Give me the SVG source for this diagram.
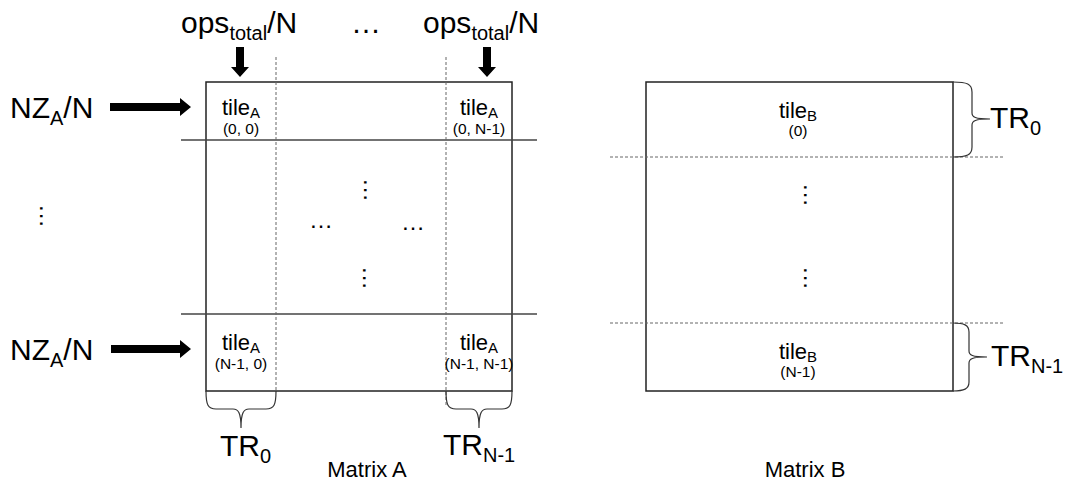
<svg xmlns="http://www.w3.org/2000/svg" width="1068" height="486" viewBox="0 0 1068 486">
<style>
text{font-family:"Liberation Sans",Arial,sans-serif;fill:#000}
.big{font-size:30px}
.sub{font-size:20px}
.tile{font-size:22px;text-anchor:middle}
.tsub{font-size:15px}
.idx{font-size:15.5px;text-anchor:middle}
.cap{font-size:22px;text-anchor:middle}
.dots{font-size:24px;text-anchor:middle}
.mat{fill:none;stroke:#222;stroke-width:1.5}
.row{stroke:#444;stroke-width:1.3}
.dash{stroke:#666;stroke-width:1;stroke-dasharray:3 2}
.brace{fill:none;stroke:#333;stroke-width:1.2}
.arrow{fill:#000}
</style>
<g id="matrixA">
<rect class="mat" x="206" y="82" width="306" height="309"/>
<line class="row" x1="181" y1="140" x2="537" y2="140"/>
<line class="row" x1="181" y1="314" x2="537" y2="314"/>
<line class="dash" x1="276" y1="57" x2="276" y2="391"/>
<line class="dash" x1="446" y1="57" x2="446" y2="407"/>
<text class="cap" x="367" y="477">Matrix A</text>
</g>
<g id="tileA00">
<text class="tile" x="241" y="115">tile<tspan class="tsub" dy="3">A</tspan></text>
<text class="idx" x="241" y="134">(0, 0)</text>
</g>
<g id="tileA0N">
<text class="tile" x="479" y="115">tile<tspan class="tsub" dy="3">A</tspan></text>
<text class="idx" x="479" y="134">(0, N-1)</text>
</g>
<g id="tileAN0">
<text class="tile" x="241" y="350">tile<tspan class="tsub" dy="3">A</tspan></text>
<text class="idx" x="241" y="369">(N-1, 0)</text>
</g>
<g id="tileANN">
<text class="tile" x="479" y="350">tile<tspan class="tsub" dy="3">A</tspan></text>
<text class="idx" x="479" y="369">(N-1, N-1)</text>
</g>
<g id="dotsA">
<text class="dots" x="321" y="228">…</text>
<text class="dots" x="413" y="230">…</text>
<text class="dots" transform="translate(365,190) rotate(90)" x="0" y="1">…</text>
<text class="dots" transform="translate(364,278) rotate(90)" x="0" y="1">…</text>
<text class="dots" transform="translate(41,216) rotate(90)" x="0" y="1">…</text>
</g>
<g id="labelsTop">
<text class="big" x="181" y="33">ops<tspan class="sub" dy="7">total</tspan><tspan dy="-7">/N</tspan></text>
<text class="big" x="423" y="33">ops<tspan class="sub" dy="7">total</tspan><tspan dy="-7">/N</tspan></text>
<text class="big" x="366" y="33" text-anchor="middle">…</text>
</g>
<g id="labelsLeft">
<text class="big" x="10" y="118">NZ<tspan class="sub" dy="7">A</tspan><tspan dy="-7">/N</tspan></text>
<text class="big" x="10" y="360">NZ<tspan class="sub" dy="7">A</tspan><tspan dy="-7">/N</tspan></text>
</g>
<g id="trA">
<text class="big" x="220" y="456">TR<tspan class="sub" dy="7">0</tspan></text>
<text class="big" x="443" y="455">TR<tspan class="sub" dy="7">N-1</tspan></text>
</g>
<g id="matrixB">
<rect class="mat" x="646" y="82" width="307" height="309"/>
<line class="dash" x1="610" y1="157" x2="1005" y2="157"/>
<line class="dash" x1="610" y1="323" x2="1005" y2="323"/>
<text class="dots" transform="translate(805,195) rotate(90)" x="0" y="1">…</text>
<text class="dots" transform="translate(805,278) rotate(90)" x="0" y="1">…</text>
<text class="cap" x="805" y="477">Matrix B</text>
</g>
<g id="tileB0">
<text class="tile" x="798" y="118">tile<tspan class="tsub" dy="3">B</tspan></text>
<text class="idx" x="798" y="136">(0)</text>
</g>
<g id="tileBN">
<text class="tile" x="798" y="359">tile<tspan class="tsub" dy="3">B</tspan></text>
<text class="idx" x="798" y="377">(N-1)</text>
</g>
<g id="trB">
<text class="big" x="990" y="128">TR<tspan class="sub" dy="7">0</tspan></text>
<text class="big" x="991" y="366">TR<tspan class="sub" dy="7">N-1</tspan></text>
</g>
<g id="connectors">
<path class="arrow" d="M236,47 H244 V67 H249 L240,77 L231,67 H236 Z"/>
<path class="arrow" d="M483,47 H491 V67 H496 L487,77 L478,67 H483 Z"/>
<path class="arrow" d="M110,103 H180 V98 L191,107 L180,116 V111 H110 Z"/>
<path class="arrow" d="M111,345 H180 V340 L191,349 L180,358 V353 H111 Z"/>
<path class="brace" d="M206,391 C206,405 208,409 216,409 L233,409 C238,409 241,412 241,428 M276,391 C276,405 274,409 266,409 L249,409 C244,409 241,412 241,428"/>
<path class="brace" d="M446,391 C446,405 448,409 456,409 L471,409 C476,409 479,412 479,428 M512,391 C512,405 510,409 502,409 L487,409 C482,409 479,412 479,428"/>
<path class="brace" d="M953,82 C967,82 972,84 972,92 L972,113 C972,117 975,119 990,119 M953,157 C967,157 972,155 972,147 L972,125 C972,121 975,119 990,119"/>
<path class="brace" d="M953,323 C964,323 969,325 969,332 L969,351 C969,355 972,357 987,357 M953,391 C964,391 969,389 969,382 L969,363 C969,359 972,357 987,357"/>
</g>
</svg>
